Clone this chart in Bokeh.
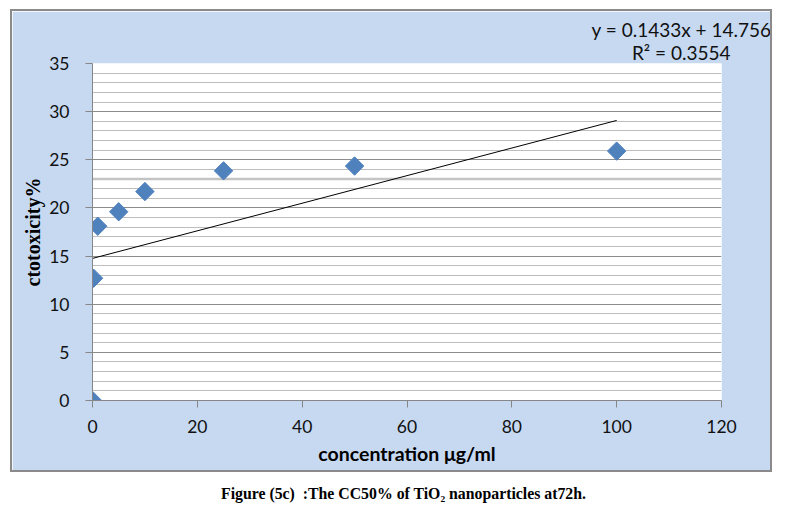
import math
from bokeh.plotting import figure
from bokeh.layouts import column
from bokeh.models import Range1d, FixedTicker, Span, Title, Div
from bokeh.embed import file_html
from bokeh.resources import INLINE

# ---- data ----
conc = [0, 0.2, 1, 5, 10, 25, 50, 100]
cytotoxicity = [0, 12.7, 18.1, 19.6, 21.7, 23.85, 24.35, 25.9]
x_ticks = [0, 20, 40, 60, 80, 100, 120]
y_ticks = [0, 5, 10, 15, 20, 25, 30, 35]
y_minor = [v for v in range(36) if v % 5]
trend_slope = 0.1433
trend_intercept = 14.756
trend_x = [0, 100]
trend_y = [trend_slope * v + trend_intercept for v in trend_x]
eq_text = "y = 0.1433x + 14.756"
r2_text = "R² = 0.3554"
x_label = "concentration μg/ml"
y_label = "ctotoxicity%"
caption = "Figure (5c)  :The CC50% of TiO₂ nanoparticles at72h."

BLUE_BG = "#C6D9F1"
MARKER = "#4F81BD"
AXIS_GRAY = "#868686"

p = figure(width=762, height=463, output_backend="svg", toolbar_location=None,
           x_range=Range1d(0, 120), y_range=Range1d(0, 35), title_location=None,
           min_border_left=80, min_border_right=53, min_border_top=52, min_border_bottom=74)
p.border_fill_color = BLUE_BG
p.background_fill_color = "white"
p.outline_line_color = None
p.styles = {"border": "2px solid #8a8a8a", "margin-left": "10px", "margin-top": "9px"}

# axes
p.xaxis.ticker = FixedTicker(ticks=x_ticks)
p.yaxis.ticker = FixedTicker(ticks=y_ticks, minor_ticks=y_minor)
for ax in (p.xaxis, p.yaxis):
    ax.axis_line_color = AXIS_GRAY
    ax.major_tick_line_color = AXIS_GRAY
    ax.major_tick_out = 7
    ax.major_tick_in = 0
    ax.minor_tick_line_color = None
    ax.major_label_text_font = "Lato"
    ax.major_label_text_font_size = "17.5px"
    ax.major_label_text_color = "#111111"
p.yaxis.major_label_standoff = 16
p.xaxis.major_label_standoff = 12

p.yaxis.axis_label = y_label
p.yaxis.axis_label_text_font = "Liberation Serif"
p.yaxis.axis_label_text_font_style = "bold"
p.yaxis.axis_label_text_font_size = "20px"
p.yaxis.axis_label_text_color = "black"
p.yaxis.axis_label_standoff = 2

p.xaxis.axis_label = x_label
p.xaxis.axis_label_text_font = "Lato"
p.xaxis.axis_label_text_font_style = "bold"
p.xaxis.axis_label_text_font_size = "19.5px"
p.xaxis.axis_label_text_color = "black"
p.xaxis.axis_label_standoff = 6

# grid
p.xgrid.visible = False
p.ygrid.grid_line_color = "#8c8c8c"
p.ygrid.minor_grid_line_color = "#bdbdbd"
p.add_layout(Span(location=23, dimension="width", line_color="#c4c4c4",
                  line_width=2.5, level="underlay"))

# trend line and points
p.line(trend_x, trend_y, line_color="black", line_width=1)
p.scatter(conc, cytotoxicity, marker="square", angle=math.pi / 4, size=13,
          fill_color=MARKER, line_color=MARKER)

# trendline equation (stacked above the plot area, outermost added last)
p.add_layout(Title(text=r2_text, align="right", offset=-9, standoff=0,
                   text_font="Lato", text_font_size="19px", text_font_style="normal",
                   text_color="#111111"), "above")
p.add_layout(Title(text=eq_text, align="right", offset=-50, standoff=-5,
                   text_font="Lato", text_font_size="19px", text_font_style="normal",
                   text_color="#111111"), "above")

cap = Div(text=caption.replace("  ", "&nbsp; "), width=776, height=28,
          styles={"font-family": "Liberation Serif", "font-weight": "bold",
                  "font-size": "15.8px", "color": "black", "padding-left": "216px",
                  "padding-top": "6px"})

layout = column(p, cap, spacing=0)
open("out.html", "w").write(file_html(layout, INLINE))
